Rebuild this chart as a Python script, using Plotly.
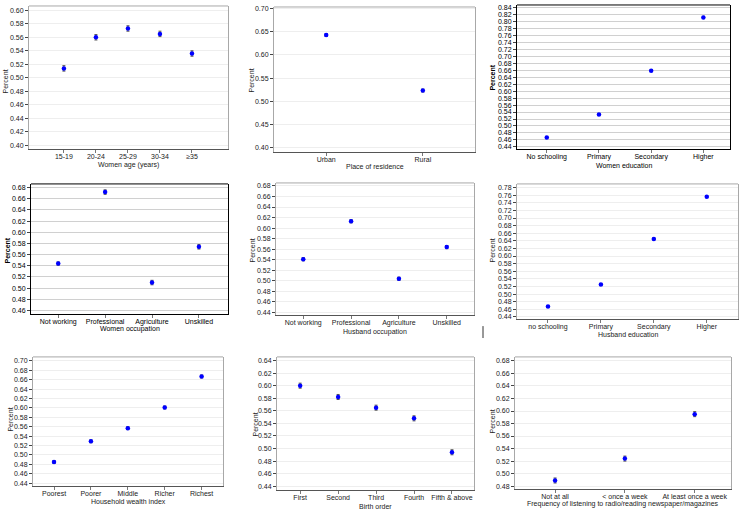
import plotly.graph_objects as go

W, H = 739, 514

# ---------------- data ----------------
age_cats = ["15-19", "20-24", "25-29", "30-34", "≥35"]
age_vals = [0.514, 0.560, 0.573, 0.565, 0.536]
age_err = [0.004, 0.004, 0.004, 0.004, 0.004]

res_cats = ["Urban", "Rural"]
res_vals = [0.643, 0.523]
res_err = [0.003, 0.003]

wedu_cats = ["No schooling", "Primary", "Secondary", "Higher"]
wedu_vals = [0.467, 0.533, 0.659, 0.812]
wedu_err = [0.002, 0.002, 0.002, 0.003]

wocc_cats = ["Not working", "Professional", "Agriculture", "Unskilled"]
wocc_vals = [0.544, 0.672, 0.510, 0.574]
wocc_err = [0.003, 0.004, 0.004, 0.004]

hocc_cats = ["Not working", "Professional", "Agriculture", "Unskilled"]
hocc_vals = [0.541, 0.613, 0.504, 0.564]
hocc_err = [0.003, 0.003, 0.003, 0.003]

hedu_cats = ["no schooling", "Primary", "Secondary", "Higher"]
hedu_vals = [0.467, 0.525, 0.645, 0.756]
hedu_err = [0.002, 0.002, 0.002, 0.002]

wealth_cats = ["Poorest", "Poorer", "Middle", "Richer", "Richest"]
wealth_vals = [0.485, 0.529, 0.557, 0.601, 0.667]
wealth_err = [0.003, 0.003, 0.003, 0.003, 0.003]

birth_cats = ["First", "Second", "Third", "Fourth", "Fifth & above"]
birth_vals = [0.600, 0.582, 0.565, 0.548, 0.494]
birth_err = [0.004, 0.004, 0.004, 0.004, 0.004]

media_cats = ["Not at all", "< once a week", "At least once a week"]
media_vals = [0.489, 0.524, 0.595]
media_err = [0.004, 0.004, 0.004]

# ---------------- layout per panel ----------------
panels = [
    dict(c=age_cats, v=age_vals, e=age_err, box=(29, 228, 4, 148), xr=(-1.09, 5.125),
         yr=(0.3946, 0.6063), dt=0.02, xt="Women age (years)", xty=164, yt=(6, 80), bold=False),
    dict(c=res_cats, v=res_vals, e=res_err, box=(274, 475, 5, 151), xr=(-0.54, 1.54),
         yr=(0.3899, 0.7037), dt=0.05, xt="Place of residence", xty=165, yt=(252, 79), bold=False),
    dict(c=wedu_cats, v=wedu_vals, e=wedu_err, box=(517, 730, 3, 148), xr=(-0.57, 3.51),
         yr=(0.4334, 0.8477), dt=0.02, xt="Women education", xty=164, yt=(493, 76), bold=True),
    dict(c=wocc_cats, v=wocc_vals, e=wocc_err, box=(31, 228, 183, 314), xr=(-0.58, 3.62),
         yr=(0.4534, 0.6866), dt=0.02, xt="Women occupation", xty=329, yt=(8, 250), bold=True),
    dict(c=hocc_cats, v=hocc_vals, e=hocc_err, box=(276, 474, 182, 315), xr=(-0.57, 3.57),
         yr=(0.4349, 0.6857), dt=0.02, xt="Husband occupation", xty=332, yt=(253, 250), bold=False),
    dict(c=hedu_cats, v=hedu_vals, e=hedu_err, box=(517, 738, 183, 319), xr=(-0.585, 3.59),
         yr=(0.434, 0.7897), dt=0.02, xt="Husband education", xty=334, yt=(493, 250), bold=False),
    dict(c=wealth_cats, v=wealth_vals, e=wealth_err, box=(33, 223, 357, 487), xr=(-0.57, 4.58),
         yr=(0.4337, 0.7085), dt=0.02, xt="Household wealth index", xty=502, yt=(11, 420), bold=False),
    dict(c=birth_cats, v=birth_vals, e=birth_err, box=(277, 474, 357, 491), xr=(-0.61, 4.58),
         yr=(0.4337, 0.6458), dt=0.02, xt="Birth order", xty=507, yt=(256, 425), bold=False),
    dict(c=media_cats, v=media_vals, e=media_err, box=(515, 731, 357, 490), xr=(-0.574, 2.52),
         yr=(0.4752, 0.6864), dt=0.02, xt="Frequency of listening to radio/reading newspaper/magazines",
         xty=505, yt=(493, 422), bold=False),
]

FONT = "Arial, Liberation Sans, sans-serif"
TXT = "#222222"
fig = go.Figure()
annotations = []
shapes = []

for i, p in enumerate(panels, start=1):
    xa = "x" if i == 1 else f"x{i}"
    ya = "y" if i == 1 else f"y{i}"
    x0, x1, y0, y1 = p["box"]
    xdom = [x0 / W, min(x1 / W, 1.0)]
    ydom = [1 - y1 / H, 1 - y0 / H]
    n = len(p["c"])
    fig.add_trace(go.Scatter(
        x=list(range(n)), y=p["v"], mode="markers",
        marker=dict(color="#0000ff", size=4.5, symbol="circle"),
        error_y=dict(type="data", array=p["e"], color="#555555", thickness=1, width=1.5),
        xaxis=xa, yaxis=ya, showlegend=False, hoverinfo="skip",
    ))
    bold = p["bold"]
    gridc = "#d0d0d0" if bold else "#eeeeee"
    framec = "#000000" if bold else "#a8a8a8"
    tcol = "#000000" if bold else TXT
    lo, hi = p["yr"]
    dt = p["dt"]
    k = int(round(lo / dt + 0.4999))
    tv = []
    while k * dt <= hi + 1e-9:
        tv.append(round(k * dt, 4))
        k += 1
    tt = [format(t, ".2f") for t in tv]
    xkey = "xaxis" if i == 1 else f"xaxis{i}"
    ykey = "yaxis" if i == 1 else f"yaxis{i}"
    fig.layout[xkey] = dict(
        domain=xdom, anchor=ya, range=list(p["xr"]), tickmode="array",
        tickvals=list(range(n)), ticktext=p["c"], showgrid=False, zeroline=False,
        showline=True, linecolor="#000000" if bold else "#555555", linewidth=1,
        mirror=False, ticks="outside", ticklen=3, tickcolor="#777777",
        ticklabelstandoff=-3,
        tickfont=dict(size=7, color=tcol, family=FONT),
    )
    fig.layout[ykey] = dict(
        domain=ydom, anchor=xa, range=list(p["yr"]), tickmode="array",
        tickvals=tv, ticktext=tt, showgrid=True, gridcolor=gridc, gridwidth=1,
        zeroline=False, showline=True, linecolor=framec, linewidth=1, mirror=True,
        ticks="outside", ticklen=3, tickcolor="#444444",
        tickfont=dict(size=7, color=tcol, family=FONT),
    )
    shapes.append(dict(type="line", xref=f"{xa} domain", yref=f"{ya} domain",
                       x0=0, x1=1, y0=1, y1=1, line=dict(color=framec, width=1)))
    annotations.append(dict(text=p["xt"], xref="paper", yref="paper",
                            x=(x0 + x1) / 2 / W, y=1 - p["xty"] / H, showarrow=False,
                            xanchor="center", yanchor="middle",
                            font=dict(size=7, color=tcol, family=FONT)))
    yx, yy = p["yt"]
    yt = "<b>Percent</b>" if bold else "Percent"
    annotations.append(dict(text=yt, xref="paper", yref="paper",
                            x=yx / W, y=1 - yy / H, showarrow=False, textangle=-90,
                            xanchor="center", yanchor="middle",
                            font=dict(size=7, color=tcol, family=FONT)))

# stray mark in the original image
shapes.append(dict(type="line", xref="paper", yref="paper",
                   x0=483 / W, x1=483 / W, y0=1 - 326 / H, y1=1 - 338 / H,
                   line=dict(color="#333333", width=1)))

fig.update_layout(
    width=W, height=H, margin=dict(l=0, r=0, t=0, b=0),
    paper_bgcolor="white", plot_bgcolor="white",
    annotations=annotations, shapes=shapes,
)

fig.write_html("out.html", config={"displayModeBar": False},
               post_script="document.body.style.margin='0';")
